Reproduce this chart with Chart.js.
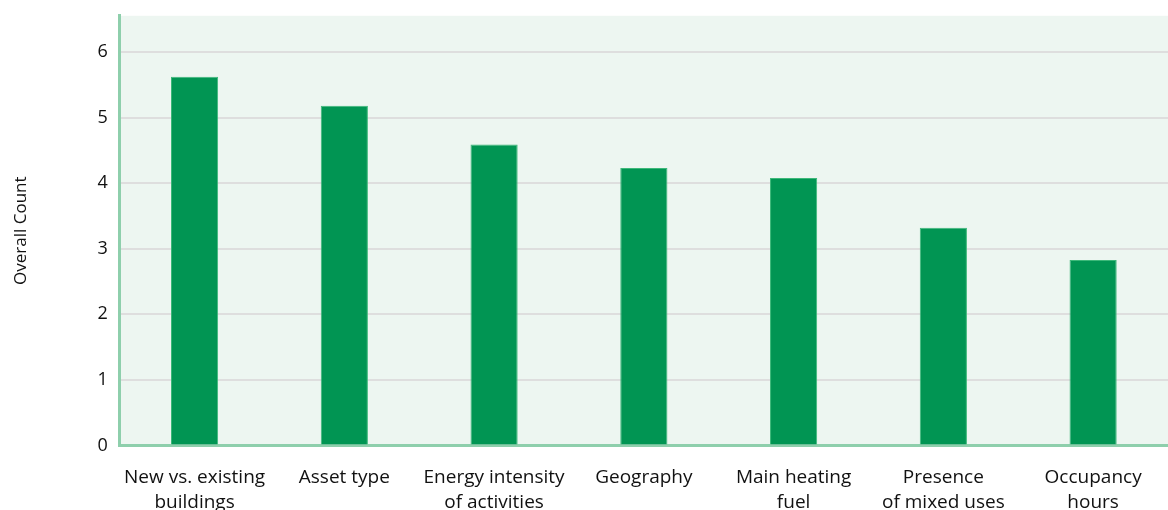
<!DOCTYPE html>
<html>
<head>
<meta charset="utf-8">
<script src="https://cdn.jsdelivr.net/npm/chart.js@4"></script>
<style>
  html, body { margin: 0; padding: 0; background: #fff; overflow: hidden; }
  #wrap { width: 1168px; height: 510px; overflow: hidden; }
  #chart { display: block; margin-top: -7px; }
</style>
</head>
<body>
<div id="wrap"><canvas id="chart" width="1168" height="542"></canvas></div>
<script>
// categories and counts
const categories = [
    ['New vs. existing', 'buildings'],
    'Asset type',
    ['Energy intensity', 'of activities'],
    'Geography',
    ['Main heating', 'fuel'],
    ['Presence', 'of mixed uses'],
    ['Occupancy', 'hours']
];
const counts = [5.62, 5.18, 4.59, 4.23, 4.08, 3.32, 2.83];
const yTicks = [0, 1, 2, 3, 4, 5, 6];

const FONT = '"Open Sans", "Noto Sans", sans-serif';

// light green panel behind the bars
const panelBg = {
    id: 'panelBg',
    beforeDraw(chart) {
        const { ctx, chartArea: a } = chart;
        ctx.save();
        ctx.fillStyle = '#edf6f1';
        ctx.fillRect(a.left, a.top, a.right - a.left, a.bottom - a.top);
        ctx.restore();
    }
};

new Chart(document.getElementById('chart'), {
    type: 'bar',
    data: {
        labels: categories,
        datasets: [{
            data: counts,
            backgroundColor: '#019553',
            borderColor: '#3cb879',
            borderWidth: { top: 1, left: 1, right: 1, bottom: 0 },
            barPercentage: 0.315,
            categoryPercentage: 1
        }]
    },
    options: {
        responsive: false,
        animation: false,
        layout: { padding: { top: 3, right: 0, left: 0, bottom: 0 } },
        plugins: { legend: { display: false }, tooltip: { enabled: false } },
        scales: {
            x: {
                grid: { display: false, drawTicks: false },
                border: { color: '#8ecfac', width: 3 },
                ticks: {
                    color: '#111',
                    font: { family: FONT, size: 19, lineHeight: 1.3 },
                    padding: 20,
                    maxRotation: 0,
                    autoSkip: false
                }
            },
            y: {
                min: 0,
                max: 6.55,
                afterBuildTicks(axis) {
                    axis.ticks = yTicks.map(v => ({ value: v }));
                },
                grid: {
                    color: ctx => ctx.tick && ctx.tick.value === 0 ? 'rgba(0,0,0,0)' : '#dedede',
                    lineWidth: 2,
                    drawTicks: false
                },
                border: { color: '#8ecfac', width: 3 },
                ticks: {
                    color: '#111',
                    font: { family: FONT, size: 18 },
                    padding: 12
                },
                title: {
                    display: true,
                    text: 'Overall Count',
                    color: '#111',
                    font: { family: FONT, size: 17 },
                    padding: { top: 11, bottom: 54 }
                }
            }
        }
    },
    plugins: [panelBg]
});
</script>
</body>
</html>
